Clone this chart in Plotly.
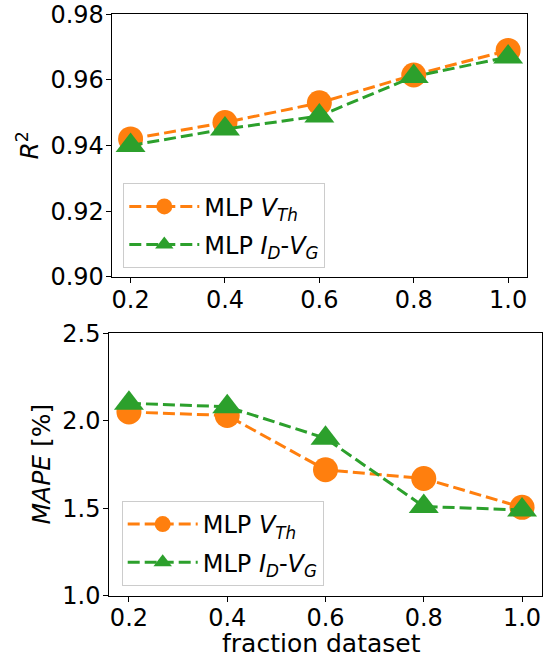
import plotly.graph_objects as go

fractions = [0.2, 0.4, 0.6, 0.8, 1.0]
r2_vth = [0.942, 0.947, 0.953, 0.9615, 0.969]
r2_idvg = [0.940, 0.945, 0.949, 0.961, 0.967]
mape_vth = [2.05, 2.03, 1.72, 1.67, 1.505]
mape_idvg = [2.10, 2.08, 1.90, 1.51, 1.49]

name_vth = "MLP <i>V</i><sub><i>Th</i></sub>"
name_idvg = "MLP <i>I</i><sub><i>D</i></sub>-<i>V</i><sub><i>G</i></sub>"

ORANGE = "#ff7f0e"
GREEN = "#2ca02c"
FONT = "DejaVu Sans"
W, H = 552, 659

fig = go.Figure()

def add(x, y, name, color, symbol, size, xa, ya, legend, group):
    fig.add_trace(go.Scatter(
        x=x, y=y, name=name, mode="lines+markers",
        line=dict(color=color, width=3, dash="12px,5px"),
        marker=dict(color=color, size=size, symbol=symbol, line=dict(width=0)),
        xaxis=xa, yaxis=ya, legend=legend, legendgroup=group))

add(fractions, r2_vth, name_vth, ORANGE, "circle", 25, "x", "y", "legend", "a1")
add(fractions, r2_idvg, name_idvg, GREEN, "triangle-up", 26, "x", "y", "legend", "a2")
add(fractions, mape_vth, name_vth, ORANGE, "circle", 25, "x2", "y2", "legend2", "b1")
add(fractions, mape_idvg, name_idvg, GREEN, "triangle-up", 26, "x2", "y2", "legend2", "b2")

axis_common = dict(showline=True, linecolor="black", linewidth=1, mirror=True,
                   ticks="outside", ticklen=5, tickwidth=1, tickcolor="black",
                   showgrid=False, zeroline=False, automargin=False,
                   tickfont=dict(family=FONT, size=24, color="black"))

top = dict(l=111.7, r=527, t=14.3, b=276.7)
bot = dict(l=109.3, r=541.7, t=333.3, b=595.7)

legend_common = dict(xanchor="left", yanchor="top",
                     bgcolor="rgba(255,255,255,0.8)", bordercolor="#cccccc", borderwidth=1,
                     font=dict(family=FONT, size=24, color="black"),
                     itemsizing="trace", itemwidth=70, tracegroupgap=4)

fig.update_layout(
    width=W, height=H,
    margin=dict(l=0, r=0, t=0, b=0),
    paper_bgcolor="white", plot_bgcolor="white",
    font=dict(family=FONT, size=24, color="black"),
    showlegend=True,
    xaxis=dict(domain=[top["l"] / W, top["r"] / W], range=[0.16, 1.04],
               tickvals=fractions, tickformat=".1f", anchor="y",
               ticklabelstandoff=-4, **axis_common),
    yaxis=dict(domain=[(H - top["b"]) / H, (H - top["t"]) / H], range=[0.90, 0.98],
               tickvals=[0.90, 0.92, 0.94, 0.96, 0.98], tickformat=".2f",
               anchor="x", ticklabelstandoff=-3, **axis_common),
    xaxis2=dict(domain=[bot["l"] / W, bot["r"] / W], range=[0.16, 1.04],
                tickvals=fractions, tickformat=".1f", anchor="y2",
                ticklabelstandoff=-5, **axis_common),
    yaxis2=dict(domain=[(H - bot["b"]) / H, (H - bot["t"]) / H], range=[1.0, 2.5],
                tickvals=[1.0, 1.5, 2.0, 2.5], tickformat=".1f",
                anchor="x2", ticklabelstandoff=-2, **axis_common),
    legend=dict(x=123.3 / W, y=(H - 183.3) / H, **legend_common),
    legend2=dict(x=121.7 / W, y=(H - 501) / H, **legend_common),
    annotations=[
        dict(text="<i>R</i><sup>2</sup>", x=28 / W, y=(H - 145.5) / H,
             xref="paper", yref="paper", showarrow=False, textangle=-90,
             xanchor="center", yanchor="middle",
             font=dict(family=FONT, size=25, color="black")),
        dict(text="<i>MAPE</i> [%]", x=41 / W, y=(H - 464.5) / H,
             xref="paper", yref="paper", showarrow=False, textangle=-90,
             xanchor="center", yanchor="middle",
             font=dict(family=FONT, size=25, color="black")),
        dict(text="fraction dataset", x=321.5 / W, y=(H - 643) / H,
             xref="paper", yref="paper", showarrow=False,
             xanchor="center", yanchor="middle",
             font=dict(family=FONT, size=25, color="black")),
    ],
)

fig.write_html("out.html")
